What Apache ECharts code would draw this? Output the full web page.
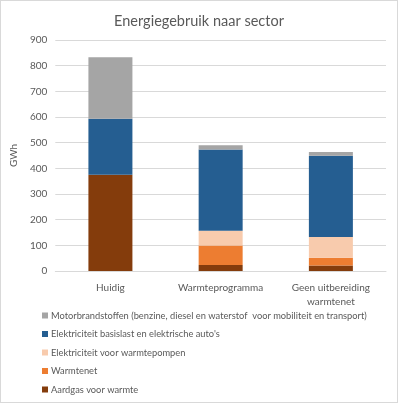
<!DOCTYPE html>
<html>
<head>
<meta charset="utf-8">
<script src="https://cdn.jsdelivr.net/npm/echarts@6/dist/echarts.min.js"></script>
<style>
html, body { margin: 0; padding: 0; background: #fff; }
#chart {
  width: 396px;
  height: 401px;
  border: 1px solid #d9d9d9;
}
</style>
</head>
<body>
<div id="chart"></div>
<script>
// categorieen en waarden (GWh)
var categories = ['Huidig', 'Warmteprogramma', 'Geen uitbereiding\nwarmtenet'];
var seriesNames = [
  'Aardgas voor warmte',
  'Warmtenet',
  'Elektriciteit voor warmtepompen',
  'Elektriciteit basislast en elektrische auto\'s',
  'Motorbrandstoffen (benzine, diesel en waterstof  voor mobiliteit en transport)'
];
var aardgas = [375, 23, 21];
var warmtenet = [0, 76, 31];
var elekWarmtepompen = [0, 58, 80];
var elekBasislast = [218, 316, 317];
var motorbrandstoffen = [240, 17, 15];
var colors = ['#843C0C', '#ED7D31', '#F8CBAD', '#255E91', '#A5A5A5'];

var values = [aardgas, warmtenet, elekWarmtepompen, elekBasislast, motorbrandstoffen];
var font = 'Lato, "Open Sans", sans-serif';

var chart = echarts.init(document.getElementById('chart'));
chart.setOption({
  animation: false,
  textStyle: { fontFamily: font },
  title: {
    text: 'Energiegebruik naar sector',
    left: 'center',
    top: 8,
    textStyle: { fontSize: 14.5, fontWeight: 'normal', color: '#595959', fontFamily: font }
  },
  grid: { left: 53, right: 11, top: 39, height: 231 },
  legend: {
    orient: 'vertical',
    left: 36,
    top: 305,
    itemGap: 9.5,
    itemWidth: 6,
    itemHeight: 6,
    icon: 'rect',
    data: seriesNames.slice().reverse(),
    textStyle: { fontSize: 9.3, color: '#595959', fontFamily: font, padding: [0, 0, 0, -2] }
  },
  xAxis: {
    type: 'category',
    data: categories,
    axisLine: { lineStyle: { color: '#d9d9d9' } },
    axisTick: { show: false },
    axisLabel: { color: '#595959', fontSize: 10, margin: 10, lineHeight: 14, interval: 0 }
  },
  yAxis: {
    type: 'value',
    min: 0,
    max: 900,
    interval: 100,
    name: 'GWh',
    nameLocation: 'middle',
    nameGap: 34,
    nameTextStyle: { color: '#595959', fontSize: 10 },
    axisLine: { show: false },
    axisTick: { show: false },
    axisLabel: { color: '#595959', fontSize: 10, margin: 8 },
    splitLine: { lineStyle: { color: '#d9d9d9' } }
  },
  series: seriesNames.map(function (name, i) {
    return {
      name: name,
      type: 'bar',
      stack: 'totaal',
      barWidth: 44,
      itemStyle: { color: colors[i] },
      data: values[i]
    };
  })
});
</script>
</body>
</html>
